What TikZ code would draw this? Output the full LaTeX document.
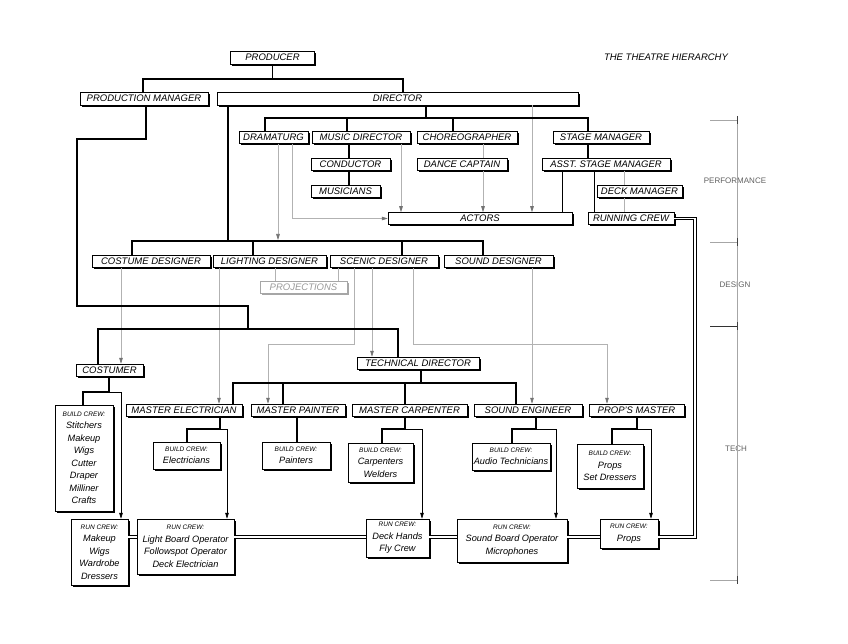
\documentclass[tikz,border=0pt]{standalone}
\usepackage{fontspec}
\setmainfont{Liberation Sans}
\usetikzlibrary{shadows,arrows.meta}
\newcommand\crewhd[1]{{\fontsize{6.5}{12}\selectfont #1}}
\begin{document}
\begin{tikzpicture}[x=1pt,y=-1pt,
  box/.style={draw=black, line width=0.5pt, fill=white, inner sep=0pt,
    font=\fontsize{9.5}{10}\selectfont\itshape,
    drop shadow={shadow xshift=1.7pt, shadow yshift=-1.7pt, fill=black, opacity=1}},
  crew/.style={box, align=center, font=\fontsize{9.2}{12.5}\selectfont\itshape},
  graybox/.style={box, draw=gray!70, text=gray!80,
    drop shadow={shadow xshift=1.7pt, shadow yshift=-1.7pt, fill=gray!70, opacity=1}},
  thk/.style={line width=1.6pt, line join=miter},
  mid/.style={line width=1pt},
  thn/.style={line width=0.6pt},
  gline/.style={line width=0.6pt, draw=gray!60},
  garrow/.style={gline, -{Triangle[length=6pt,width=3.6pt,color=gray!90!black]}},
  barrow/.style={thn, -{Triangle[length=6pt,width=3.6pt]}},
  dbl/.style={line width=0.9pt, double=white, double distance=1.5pt, line join=miter},
  side/.style={font=\fontsize{8}{9}\selectfont, text=gray!75!black},
  brk/.style={line width=0.5pt, draw=gray!70}
]
\useasboundingbox (0,0) rectangle (848,644);

% ---------- nodes ----------
\node[box, minimum width=84, minimum height=13] (producer) at (272.5,57.5) {PRODUCER};
\node[box, minimum width=128, minimum height=13] (pm) at (144,98.5) {PRODUCTION MANAGER};
\node[box, minimum width=361, minimum height=13] (director) at (397.5,98.5) {DIRECTOR};

\node[box, minimum width=69, minimum height=12] (dramaturg) at (273.5,137.5) {DRAMATURG};
\node[box, minimum width=98, minimum height=12] (musicdir) at (361,137.5) {MUSIC DIRECTOR};
\node[box, minimum width=100, minimum height=12] (choreo) at (467,137.5) {CHOREOGRAPHER};
\node[box, minimum width=96, minimum height=12] (stagemgr) at (601,137.5) {STAGE MANAGER};

\node[box, minimum width=79, minimum height=12] (conductor) at (350.5,164.5) {CONDUCTOR};
\node[box, minimum width=90, minimum height=12] (dancecap) at (462,164.5) {DANCE CAPTAIN};
\node[box, minimum width=128, minimum height=12] (asm) at (606,164.5) {ASST. STAGE MANAGER};

\node[box, minimum width=69, minimum height=12] (musicians) at (345.5,191.5) {MUSICIANS};
\node[box, minimum width=85, minimum height=12] (deckmgr) at (639.5,191.5) {DECK MANAGER};

\node[box, minimum width=184, minimum height=12] (actors) at (480,218.5) {ACTORS};
\node[box, minimum width=86, minimum height=12] (runcrew) at (631,218.5) {RUNNING CREW};

\node[box, minimum width=118, minimum height=12] (costdes) at (151,261.5) {COSTUME DESIGNER};
\node[box, minimum width=113, minimum height=12] (lightdes) at (269.5,261.5) {LIGHTING DESIGNER};
\node[box, minimum width=108, minimum height=12] (scendes) at (384,261.5) {SCENIC DESIGNER};
\node[box, minimum width=109, minimum height=12] (sounddes) at (498.5,261.5) {SOUND DESIGNER};

\node[graybox, minimum width=87, minimum height=12] (proj) at (303.5,287) {PROJECTIONS};

\node[box, minimum width=122, minimum height=12] (td) at (418,363) {TECHNICAL DIRECTOR};
\node[box, minimum width=67, minimum height=12] (costumer) at (109.5,370) {COSTUMER};

\node[box, minimum width=116, minimum height=12] (me) at (184,410) {MASTER ELECTRICIAN};
\node[box, minimum width=94, minimum height=12] (mp) at (298,410) {MASTER PAINTER};
\node[box, minimum width=115, minimum height=12] (mc) at (409.5,410) {MASTER CARPENTER};
\node[box, minimum width=108, minimum height=12] (se) at (528,410) {SOUND ENGINEER};
\node[box, minimum width=95, minimum height=12] (propsm) at (636.5,410) {PROP'S MASTER};

\node[crew, minimum width=58, minimum height=106] (bccost) at (84,458)
  {\crewhd{BUILD CREW:}\\Stitchers\\Makeup\\Wigs\\Cutter\\Draper\\Milliner\\Crafts};
\node[crew, minimum width=67, minimum height=27] (bcelec) at (186.5,455.5)
  {\crewhd{BUILD CREW:}\\Electricians};
\node[crew, minimum width=68, minimum height=27] (bcpaint) at (296,455.5)
  {\crewhd{BUILD CREW:}\\Painters};
\node[crew, minimum width=65, minimum height=39] (bccarp) at (380.5,462.5)
  {\crewhd{BUILD CREW:}\\Carpenters\\Welders};
\node[crew, minimum width=78, minimum height=27] (bcaudio) at (511,456.5)
  {\crewhd{BUILD CREW:}\\Audio Technicians};
\node[crew, minimum width=66, minimum height=44] (bcprops) at (610,466)
  {\crewhd{BUILD CREW:}\\Props\\Set Dressers};

\node[crew, minimum width=57, minimum height=66] (rccost) at (99.5,552)
  {\crewhd{RUN CREW:}\\Makeup\\Wigs\\Wardrobe\\Dressers};
\node[crew, minimum width=97, minimum height=55] (rclight) at (185.5,546.5)
  {\crewhd{RUN CREW:}\\Light Board Operator\\Followspot Operator\\Deck Electrician};
\node[crew, minimum width=63, minimum height=38] (rcdeck) at (397.5,538)
  {\crewhd{RUN CREW:}\\Deck Hands\\Fly Crew};
\node[crew, minimum width=110, minimum height=43] (rcsound) at (512,540.5)
  {\crewhd{RUN CREW:}\\Sound Board Operator\\Microphones};
\node[crew, minimum width=58, minimum height=29] (rcprops) at (629,533.5)
  {\crewhd{RUN CREW:}\\Props};

\node[font=\fontsize{9.5}{10}\selectfont\itshape] (title) at (666,57) {THE THEATRE HIERARCHY};
\node[side] (lperf) at (735,181) {PERFORMANCE};
\node[side] (ldes) at (735,285) {DESIGN};
\node[side] (ltech) at (736,449) {TECH};

% ---------- gray connectors ----------
\draw[garrow] (director.south -| 532,0) -- (actors.north -| 532,0);
\draw[garrow] (musicdir.south -| 401,0) -- (actors.north -| 401,0);
\draw[garrow] (dramaturg.south -| 292,0) |- (actors.west);
\draw[garrow] (dramaturg.south -| 278,0) -- (278,240);
\draw[gline] (choreo.south -| 483,0) -- (dancecap.north -| 483,0);
\draw[garrow] (dancecap.south -| 483,0) -- (actors.north -| 483,0);
\draw[gline] (asm.south -| 624,0) -- (deckmgr.north -| 624,0);
\draw[gline] (deckmgr.south -| 624,0) -- (runcrew.north -| 624,0);

\draw[garrow] (costdes.south -| 121,0) -- (costumer.north -| 121,0);
\draw[garrow] (lightdes.south -| 219,0) -- (me.north -| 219,0);
\draw[gline] (lightdes.south -| 275,0) -- (proj.north -| 275,0);
\draw[gline] (scendes.south -| 338,0) -- (proj.north -| 338,0);
\draw[garrow] (scendes.south -| 354,0) -- (354,344) -- (268,344) -- (mp.north -| 268,0);
\draw[garrow] (scendes.south -| 372,0) -- (td.north -| 372,0);
\draw[garrow] (scendes.south -| 413,0) -- (413,344) -- (607,344) -- (propsm.north -| 607,0);
\draw[garrow] (sounddes.south -| 532,0) -- (se.north -| 532,0);

% ---------- black connectors ----------
\draw[thk] (producer.south) -- (272.5,79);
\draw[thk] (pm.north -| 143,0) -- (143,79) -- (403,79) -- (director.north -| 403,0);
\draw[thk] (pm.south -| 146,0) -- (146,139) -- (77,139) -- (77,306) -- (248,306) -- (248,329);
\draw[thk] (costumer.north -| 98,0) -- (98,329) -- (398,329) -- (td.north -| 398,0);

\draw[thk] (director.south -| 228,0) -- (228,241);
\draw[thk] (costdes.north -| 132,0) -- (132,241) -- (483,241) -- (sounddes.north -| 483,0);
\draw[thk] (253,241) -- (lightdes.north -| 253,0);
\draw[thk] (402,241) -- (scendes.north -| 402,0);

\draw[thk] (director.south -| 426,0) -- (426,118);
\draw[thk] (dramaturg.north -| 265,0) -- (265,118) -- (588,118) -- (stagemgr.north -| 588,0);
\draw[thk] (347,118) -- (musicdir.north -| 347,0);
\draw[thk] (453,118) -- (choreo.north -| 453,0);

\draw[thk] (musicdir.south -| 349,0) -- (conductor.north -| 349,0);
\draw[thk] (conductor.south -| 349,0) -- (musicians.north -| 349,0);
\draw[thk] (stagemgr.south -| 588,0) -- (asm.north -| 588,0);
\draw[mid] (asm.south -| 562,0) -- (actors.north -| 562,0);
\draw[mid] (asm.south -| 594,0) -- (runcrew.north -| 594,0);

\draw[thk] (td.south -| 421,0) -- (421,383);
\draw[thk] (me.north -| 233,0) -- (233,383) -- (516,383) -- (se.north -| 516,0);
\draw[thk] (283,383) -- (mp.north -| 283,0);
\draw[thk] (405,383) -- (mc.north -| 405,0);

\draw[thk] (costumer.south -| 109,0) -- (109,392) -- (83,392) -- (bccost.north -| 83,0);
\draw[barrow] (109,392) -- (121,392) -- (rccost.north -| 121,0);
\draw[thk] (me.south -| 220,0) -- (220,429) -- (187,429) -- (bcelec.north -| 187,0);
\draw[barrow] (220,429) -- (227,429) -- (rclight.north -| 227,0);
\draw[thk] (mp.south -| 297,0) -- (bcpaint.north -| 297,0);
\draw[thk] (mc.south -| 405,0) -- (405,429) -- (382,429) -- (bccarp.north -| 382,0);
\draw[barrow] (405,429) -- (422,429) -- (rcdeck.north -| 422,0);
\draw[thk] (se.south -| 536,0) -- (536,429) -- (512,429) -- (bcaudio.north -| 512,0);
\draw[barrow] (536,429) -- (556,429) -- (rcsound.north -| 556,0);
\draw[thk] (propsm.south -| 637,0) -- (637,429) -- (612,429) -- (bcprops.north -| 612,0);
\draw[barrow] (637,429) -- (651,429) -- (rcprops.north -| 651,0);

% ---------- run crew double line ----------
\coordinate (dl) at (0,537);
\coordinate (dr1) at (695,537);
\coordinate (dr2) at (695,218.5);
\draw[dbl] (rccost.east |- dl) -- (rclight.west |- dl);
\draw[dbl] (rclight.east |- dl) -- (rcdeck.west |- dl);
\draw[dbl] (rcdeck.east |- dl) -- (rcsound.west |- dl);
\draw[dbl] (rcsound.east |- dl) -- (rcprops.west |- dl);
\draw[dbl] (rcprops.east |- dl) -- (dr1) -- (dr2) -- (runcrew.east);

% ---------- side bracket ----------
\draw[brk] (737,120) -- (737,580);
\draw[brk] (710,120) -- (737,120);
\draw[brk] (710,242) -- (737,242);
\draw[line width=0.5pt, draw=gray!40!black] (710,326) -- (737,326);
\draw[brk] (710,580) -- (737,580);
\foreach \yy in {120,242,326,580}
  \draw[line width=0.9pt, draw=gray!50!black] (737,\yy-4) -- (737,\yy+4);
\end{tikzpicture}
\end{document}
